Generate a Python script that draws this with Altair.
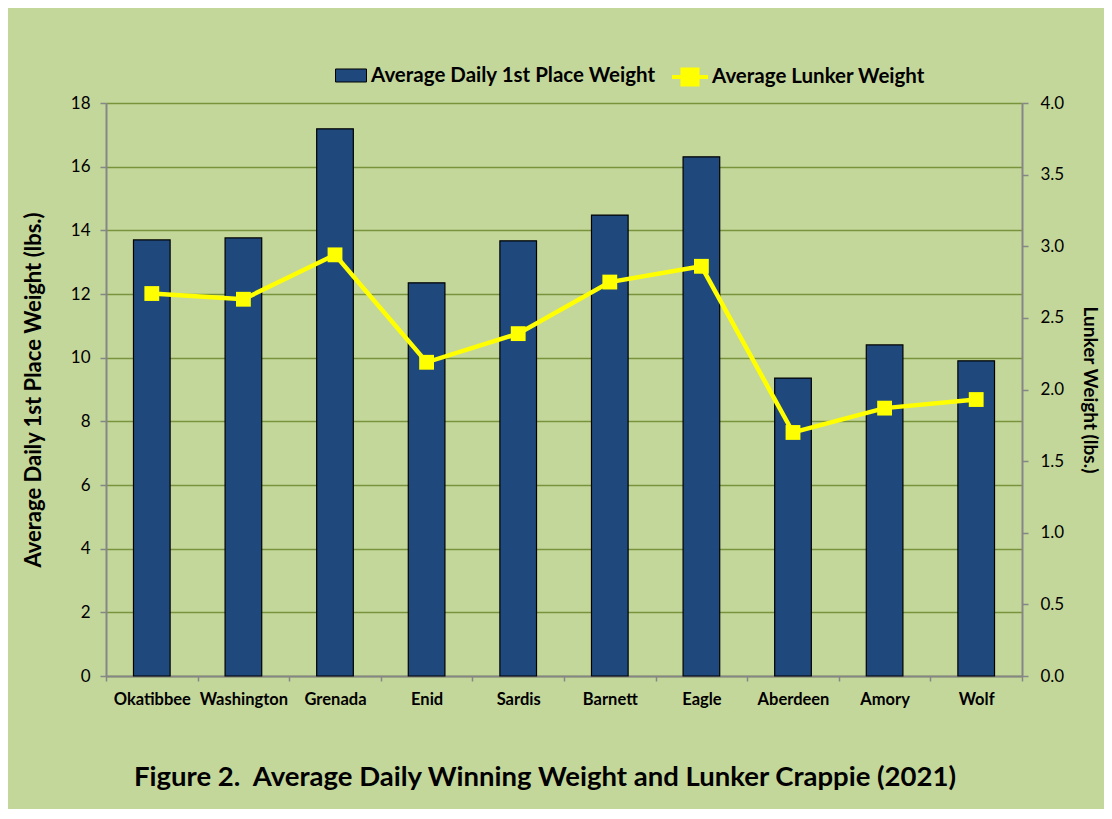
import altair as alt
import pandas as pd

lakes = ["Okatibbee", "Washington", "Grenada", "Enid", "Sardis",
         "Barnett", "Eagle", "Aberdeen", "Amory", "Wolf"]
first_place = [13.70, 13.76, 17.19, 12.35, 13.67, 14.48, 16.31, 9.36, 10.40, 9.90]
lunker = [2.67, 2.63, 2.94, 2.19, 2.39, 2.75, 2.86, 1.70, 1.87, 1.93]
left_ticks = [0, 2, 4, 6, 8, 10, 12, 14, 16, 18]
right_ticks = [0.0, 0.5, 1.0, 1.5, 2.0, 2.5, 3.0, 3.5, 4.0]
series_bar = "Average Daily 1st Place Weight"
series_line = "Average Lunker Weight"

df = pd.DataFrame({"lake": lakes, "first": first_place, "lunker": lunker,
                   "s1": series_bar, "s2": series_line})

FONT = "Lato"
GRAY = "#868686"
OLIVE = "#77933C"
NAVY = "#1F497D"
YELLOW = "#FFFF00"

x_enc = alt.X("lake:N", sort=lakes,
              scale=alt.Scale(paddingInner=0, paddingOuter=0),
              axis=alt.Axis(title=None, labelAngle=0, tickBand="extent",
                            labelFont=FONT, labelFontSize=16.5, labelFontWeight="bold",
                            labelColor="black", labelPadding=10,
                            tickColor=GRAY, tickSize=5, tickWidth=1.5,
                            domainColor=GRAY, domainWidth=2, grid=False))

base = alt.Chart(df)

bars = base.mark_bar(width=alt.RelativeBandSize(0.4), stroke="black", strokeWidth=1.2).encode(
    x=x_enc,
    y=alt.Y("first:Q", scale=alt.Scale(domain=[0, 18], nice=False),
            axis=alt.Axis(title="Average Daily 1st Place Weight (lbs.)", values=left_ticks,
                          orient="left", format="d",
                          labelFont=FONT, labelFontSize=17, labelColor="black", labelPadding=10,
                          tickColor=GRAY, tickSize=6, tickWidth=1.5,
                          domainColor=GRAY, domainWidth=2,
                          grid=True, gridColor=OLIVE, gridWidth=1.5,
                          titleFont=FONT, titleFontSize=22, titleFontWeight="bold",
                          titleColor="black", titleBaseline="middle",
                          titleX=-73, titleY=286.5)),
    fill=alt.Fill("s1:N", scale=alt.Scale(range=[NAVY]),
                  legend=alt.Legend(title=None, orient="none", legendX=229, legendY=-43.5,
                                    symbolType="M-1,-0.42H1V0.42H-1Z", symbolSize=961,
                                    symbolStrokeColor="black", symbolStrokeWidth=1,
                                    labelFont=FONT, labelFontSize=20.5, labelFontWeight="bold",
                                    labelColor="black", labelOffset=4, labelLimit=0, padding=0)),
)

y2 = alt.Y("lunker:Q", scale=alt.Scale(domain=[0, 4], nice=False),
           axis=alt.Axis(title="Lunker Weight (lbs.)", values=right_ticks, orient="right",
                         format=".1f",
                         labelFont=FONT, labelFontSize=17, labelColor="black", labelPadding=12,
                         tickColor=GRAY, tickSize=6, tickWidth=1.5,
                         domainColor=GRAY, domainWidth=2, grid=False,
                         titleFont=FONT, titleFontSize=19, titleFontWeight="bold",
                         titleColor="black", titleBaseline="middle",
                         titleX=67, titleY=286.5))

color_enc = alt.Color("s2:N", scale=alt.Scale(range=[YELLOW]),
                      legend=alt.Legend(title=None, orient="none", legendX=564, legendY=-46,
                                        symbolType="M-1,0H1M-0.42,-0.42H0.42V0.42H-0.42Z",
                                        symbolSize=1296, symbolFillColor=YELLOW,
                                        symbolStrokeColor=YELLOW, symbolStrokeWidth=4,
                                        labelFont=FONT, labelFontSize=20.5, labelFontWeight="bold",
                                        labelColor="black", labelOffset=2, labelLimit=0, padding=0))

line = base.mark_line(strokeWidth=4.5).encode(x=x_enc, y=y2, color=color_enc)
points = base.mark_point(shape="square", filled=True, size=220, opacity=1).encode(
    x=x_enc, y=y2, color=color_enc)

chart = alt.layer(bars, line + points).resolve_scale(y="independent").properties(
    width=916, height=573,
    autosize=alt.AutoSizeParams(type="none"),
    padding={"left": 98, "top": 95, "right": 82, "bottom": 133},
    background="#C4D79B",
    title=alt.TitleParams(text="Figure 2.\u00a0 Average Daily Winning Weight and Lunker Crappie (2021)",
                          orient="bottom", anchor="middle", font=FONT, fontSize=27.5,
                          fontWeight="bold", color="black", offset=56, dx=-19),
).configure_view(stroke=None)

chart.save("out.html", embed_options={"renderer": "svg", "actions": False})
